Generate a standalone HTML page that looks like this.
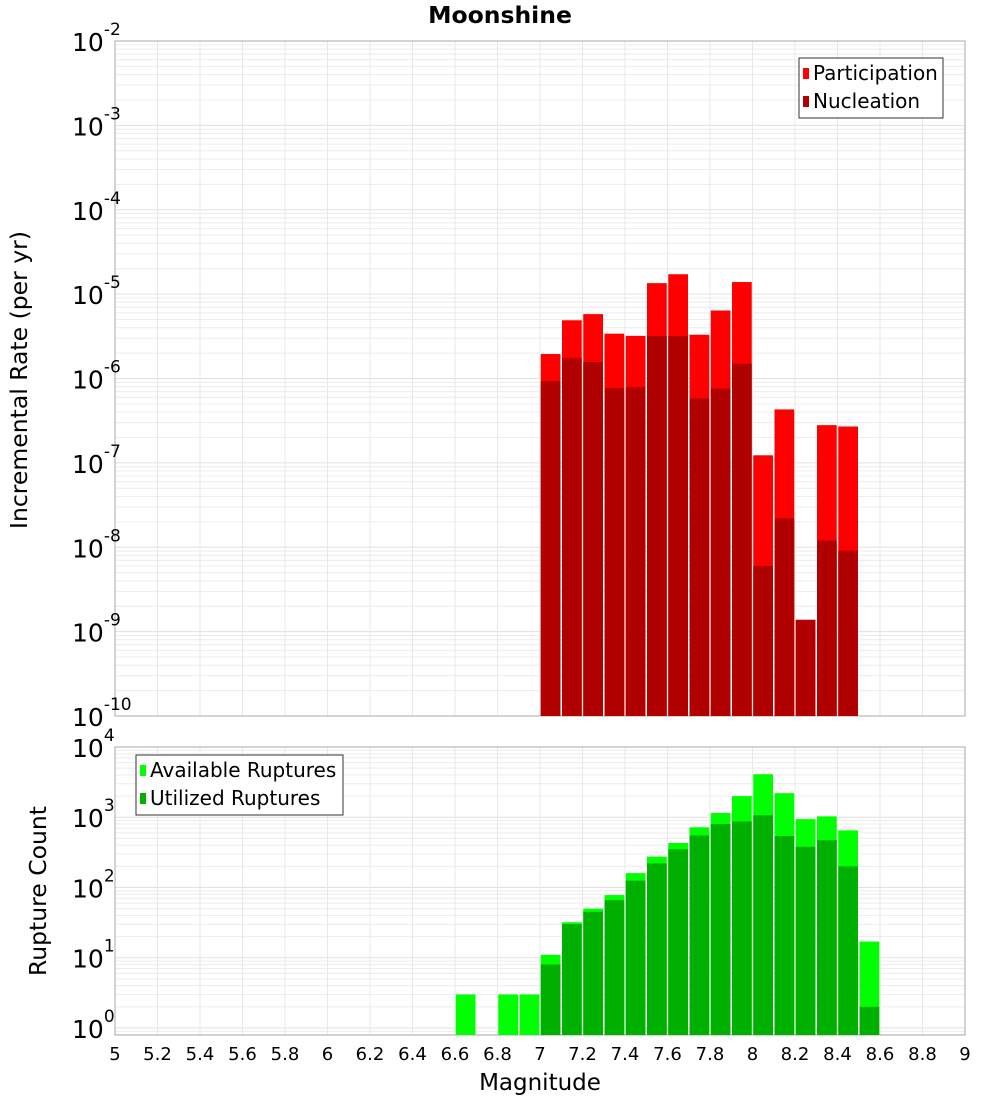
<!DOCTYPE html>
<html><head><meta charset="utf-8"><style>
body{margin:0;background:#fff;width:1000px;height:1100px;overflow:hidden}
svg text{font-family:"DejaVu Sans","Liberation Sans",sans-serif}
</style></head><body>
<svg id="c" width="1000" height="1100" xmlns="http://www.w3.org/2000/svg">
<text x="500" y="23" text-anchor="middle" font-size="23.5" font-weight="bold">Moonshine</text>
<g id="top"></g><g id="bot"></g>
<text x="540" y="1090" text-anchor="middle" font-size="23">Magnitude</text>
<text transform="translate(27,380) rotate(-90)" text-anchor="middle" font-size="23.5">Incremental Rate (per yr)</text>
<text transform="translate(46,891) rotate(-90)" text-anchor="middle" font-size="23.5">Rupture Count</text>
</svg>
<script>
const topMags=[7.05,7.15,7.25,7.35,7.45,7.55,7.65,7.75,7.85,7.95,8.05,8.15,8.25,8.35,8.45];
const participation=[1.95e-6,4.9e-6,5.8e-6,3.4e-6,3.2e-6,1.35e-5,1.72e-5,3.3e-6,6.4e-6,1.39e-5,1.23e-7,4.3e-7,1.38e-9,2.8e-7,2.7e-7];
const nucleation=[9.3e-7,1.74e-6,1.57e-6,7.7e-7,7.9e-7,3.2e-6,3.2e-6,5.8e-7,7.6e-7,1.5e-6,6.0e-9,2.2e-8,1.38e-9,1.2e-8,9.1e-9];
const botMags=[6.65,6.85,6.95,7.05,7.15,7.25,7.35,7.45,7.55,7.65,7.75,7.85,7.95,8.05,8.15,8.25,8.35,8.45,8.55];
const available=[3,3,3,11,32,50,78,160,275,430,720,1150,2000,4100,2200,940,1030,650,17];
const utilized=[0,0,0,8,30,45,66,125,220,350,550,800,870,1070,540,380,470,200,2];
const xTicks=[5,5.2,5.4,5.6,5.8,6,6.2,6.4,6.6,6.8,7,7.2,7.4,7.6,7.8,8,8.2,8.4,8.6,8.8,9];
const topExps=[-2,-3,-4,-5,-6,-7,-8,-9,-10];
const botExps=[4,3,2,1,0];
const NS="http://www.w3.org/2000/svg";
const X0=115,X1=965;
const xs=m=>X0+(m-5)/4*(X1-X0);
function el(p,t,a){const e=document.createElementNS(NS,t);for(const k in a)e.setAttribute(k,a[k]);p.appendChild(e);return e;}
function panel(g,yTop,yBot,lmax,lmin,name){
  const ys=v=>yTop+(lmax-Math.log10(v))/(lmax-lmin)*(yBot-yTop);
  for(let d=Math.floor(lmin);d<lmax;d++)for(let k=1;k<10;k++){const y=ys(k*Math.pow(10,d));if(y<yTop||y>yBot)continue;
    const l=el(g,'line',{x1:X0,x2:X1,y1:y,y2:y,stroke:k==1?'#e0e0e0':'#ececec','stroke-width':1});
    }
  xTicks.forEach(t=>{const l=el(g,'line',{x1:xs(t),x2:xs(t),y1:yTop,y2:yBot,stroke:'#e8e8e8'});
    });
  const r=el(g,'rect',{x:X0,y:yTop,width:X1-X0,height:yBot-yTop,fill:'none',stroke:'#aaa'});
  
  return ys;
}
function tick(g,y,e,name){const t=el(g,'text',{x:72,y:y+10,'text-anchor':'start','font-size':25});
  
  t.textContent='10';const s=el(t,'tspan',{dy:-16,'font-size':17});s.textContent=String(e);}
function bars(g,mags,vals,ys,yBot,color,name){mags.forEach((m,i)=>{if(vals[i]<=0)return;const y=Math.max(ys(vals[i]),0);
  const r=el(g,'rect',{x:xs(m-0.05)+0.75,y:y,width:xs(5.1)-X0-1.5,height:yBot-y,fill:color});
  });}
function legend(g,x,y,w,items,name){const b=el(g,'rect',{x:x,y:y,width:w,height:60,fill:'#fff',stroke:'#333'});
  
  items.forEach((it,i)=>{const s=el(g,'rect',{x:x+4,y:y+10+i*28,width:6,height:11,fill:it[1]});
    
    const t=el(g,'text',{x:x+14,y:y+22+i*28,'font-size':20});t.textContent=it[0];
    });}
const gt=document.getElementById('top'),gb=document.getElementById('bot');
const ysT=panel(gt,41,716,-2,-10,'top');
topExps.forEach(e=>tick(gt,ysT(Math.pow(10,e)),e,'top-y-tick'));
bars(gt,topMags,participation,ysT,716,'#ff0000','participation-bar');
bars(gt,topMags,nucleation,ysT,716,'#b00000','nucleation-bar');
legend(gt,799,58,144,[['Participation','#ff0000'],['Nucleation','#b00000']],'top-legend');
const ysB=panel(gb,747,1035,4.0,-0.1,'bottom');
botExps.forEach(e=>tick(gb,ysB(Math.pow(10,e)),e,'bottom-y-tick'));
bars(gb,botMags,available,ysB,1035,'#00ff00','available-bar');
bars(gb,botMags,utilized,ysB,1035,'#00b000','utilized-bar');
legend(gb,136,755,207,[['Available Ruptures','#00ff00'],['Utilized Ruptures','#00b000']],'bottom-legend');
xTicks.forEach(t=>{const tx=el(gb,'text',{x:xs(t),y:1060,'text-anchor':'middle','font-size':18});
  tx.textContent=String(t);});
</script>
</body></html>
